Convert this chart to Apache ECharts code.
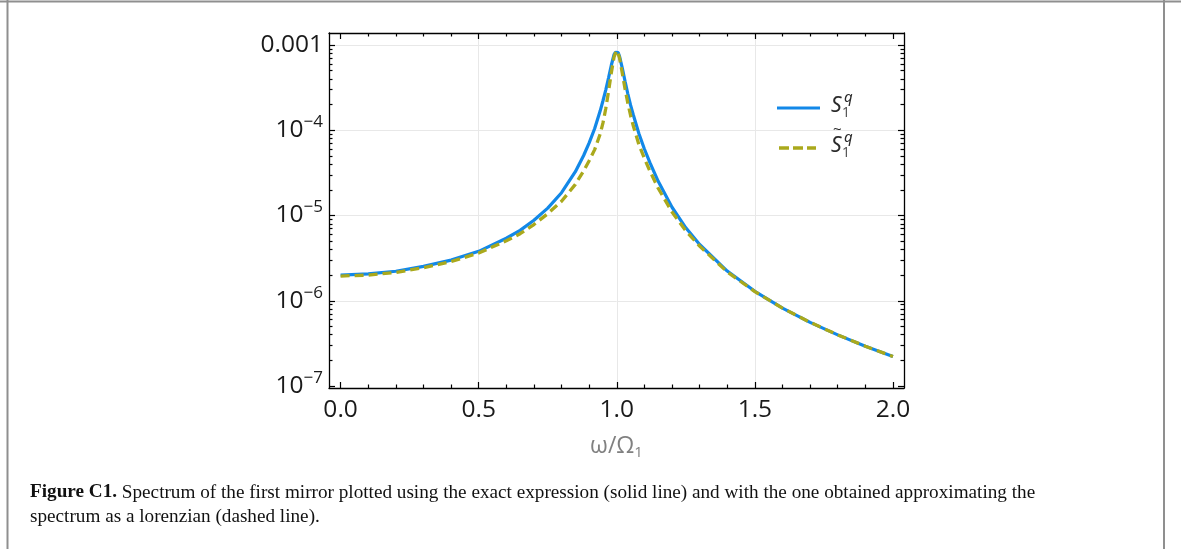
<!DOCTYPE html>
<html><head><meta charset="utf-8">
<script src="https://cdn.jsdelivr.net/npm/echarts@6/dist/echarts.min.js"></script>
<style>html,body{margin:0;padding:0;background:#fff}#c{width:1181px;height:549px}</style>
</head><body><div id="c"></div>
<script>
// ---- data ----
const omega = [0,0.1,0.2,0.3,0.4,0.5,0.6,0.65,0.7,0.75,0.8,0.85,0.88,0.9,0.92,0.94,0.95,0.96,0.97,0.98,0.99,0.995,1.0,1.005,1.01,1.02,1.03,1.04,1.05,1.06,1.08,1.1,1.12,1.15,1.2,1.25,1.3,1.4,1.5,1.6,1.7,1.8,1.9,2.0];
const sExact = [2.00e-6,2.07e-6,2.22e-6,2.53e-6,3.00e-6,3.80e-6,5.41e-6,6.70e-6,8.79e-6,1.22e-5,1.85e-5,3.27e-5,5.06e-5,7.10e-5,1.05e-4,1.69e-4,2.22e-4,2.96e-4,4.09e-4,5.75e-4,7.73e-4,8.22e-4,8.39e-4,8.13e-4,7.36e-4,5.35e-4,3.76e-4,2.68e-4,1.97e-4,1.51e-4,9.18e-5,6.03e-5,4.18e-5,2.52e-5,1.25e-5,7.18e-6,4.57e-6,2.23e-6,1.29e-6,8.20e-7,5.58e-7,3.98e-7,2.93e-7,2.22e-7];
const sLorentz = [1.95e-6,2.00e-6,2.15e-6,2.44e-6,2.88e-6,3.63e-6,5.05e-6,6.11e-6,7.83e-6,1.05e-5,1.47e-5,2.32e-5,3.34e-5,4.38e-5,5.93e-5,9.08e-5,1.22e-4,1.79e-4,2.83e-4,4.68e-4,7.21e-4,8.00e-4,8.63e-4,7.90e-4,7.03e-4,4.66e-4,3.05e-4,2.08e-4,1.49e-4,1.12e-4,6.81e-5,4.68e-5,3.32e-5,2.09e-5,1.10e-5,6.62e-6,4.37e-6,2.18e-6,1.28e-6,8.20e-7,5.58e-7,3.98e-7,2.93e-7,2.22e-7];

const xTickValues = [0,0.5,1,1.5,2];
const xTickLabels = ['0.0','0.5','1.0','1.5','2.0'];
const xMinorValues = [0.1,0.2,0.3,0.4,0.6,0.7,0.8,0.9,1.1,1.2,1.3,1.4,1.6,1.7,1.8,1.9];
const xGridValues = [0.5,1,1.5];
const yTickValues = [1e-7,1e-6,1e-5,1e-4,1e-3];
const yTickLabels = ['10{s|\u22127}','10{s|\u22126}','10{s|\u22125}','10{s|\u22124}','0.001'];
const yMinorValues = [2e-7,3e-7,4e-7,5e-7,6e-7,7e-7,8e-7,9e-7,2e-6,3e-6,4e-6,5e-6,6e-6,7e-6,8e-6,9e-6,2e-5,3e-5,4e-5,5e-5,6e-5,7e-5,8e-5,9e-5,2e-4,3e-4,4e-4,5e-4,6e-4,7e-4,8e-4,9e-4];
const yGridValues = [1e-6,1e-5,1e-4,1e-3];
const legendNames = ['S', 'S\u0303'];

// ---- chart ----
const X_MIN = -0.042, X_MAX = 2.04;
const Y_MIN = Math.pow(10,-7.0235), Y_MAX = Math.pow(10,-2.859);
const FONT = 'Open Sans';
const BLUE = '#1288e8', OLIVE = '#aaa91c';

function xAx(pos, opts){
  return Object.assign({type:'value', min:X_MIN, max:X_MAX, position:pos,
    axisLine:{show:false, onZero:false, lineStyle:{color:'#000', width:1.3}},
    axisTick:{show:false}, axisLabel:{show:false}, splitLine:{show:false}}, opts);
}
function yAx(pos, opts){
  return Object.assign({type:'log', logBase:10, min:Y_MIN, max:Y_MAX, position:pos,
    axisLine:{show:false, onZero:false, lineStyle:{color:'#000', width:1.3}},
    axisTick:{show:false}, axisLabel:{show:false}, splitLine:{show:false}}, opts);
}
const tickStyle = {color:'#000', width:1.2};

const option = {
  animation:false,
  grid:{left:329, right:277, top:33, bottom:161},
  xAxis:[
    xAx('bottom',{
      axisLine:{show:true,onZero:false,lineStyle:{color:'#000',width:1.3}},
      axisTick:{show:true,inside:true,length:6,customValues:xTickValues,lineStyle:tickStyle},
      axisLabel:{show:true,customValues:xTickValues,margin:10,fontSize:24.5,color:'#1a1a1a',fontFamily:FONT,
        formatter:v=>{const i=xTickValues.findIndex(t=>Math.abs(t-v)<1e-9);return i>=0?xTickLabels[i]:'';}},
      name:'{a|\u03c9/\u03a9}{b|1}', nameLocation:'middle', nameGap:45,
      nameTextStyle:{rich:{a:{fontSize:23,color:'#808080',fontFamily:FONT},b:{fontSize:15,color:'#808080',fontFamily:FONT,padding:[12,0,0,0]}}}
    }),
    xAx('bottom',{axisTick:{show:true,inside:true,length:3.5,customValues:xMinorValues,lineStyle:tickStyle}}),
    xAx('top',{axisLine:{show:true,onZero:false,lineStyle:{color:'#000',width:1.3}},
      axisTick:{show:true,inside:true,length:6,customValues:xTickValues,lineStyle:tickStyle}}),
    xAx('top',{axisTick:{show:true,inside:true,length:3.5,customValues:xMinorValues,lineStyle:tickStyle}}),
    xAx('bottom',{axisTick:{show:false,customValues:xGridValues},splitLine:{show:true,lineStyle:{color:'#e8e8e8',width:1}}})
  ],
  yAxis:[
    yAx('left',{
      axisLine:{show:true,onZero:false,lineStyle:{color:'#000',width:1.3}},
      axisTick:{show:true,inside:true,length:6,customValues:yTickValues,lineStyle:tickStyle},
      axisLabel:{show:true,customValues:yTickValues,margin:6,fontSize:24.5,color:'#1a1a1a',fontFamily:FONT,
        formatter:v=>{const i=yTickValues.findIndex(t=>Math.abs(Math.log10(t)-Math.log10(v))<1e-6);return i>=0?yTickLabels[i]:'';},
        rich:{s:{fontSize:17,color:'#1a1a1a',fontFamily:FONT,verticalAlign:'top',padding:[0,0,16,0]}}}
    }),
    yAx('left',{axisTick:{show:true,inside:true,length:3.5,customValues:yMinorValues,lineStyle:tickStyle}}),
    yAx('right',{axisLine:{show:true,onZero:false,lineStyle:{color:'#000',width:1.3}},
      axisTick:{show:true,inside:true,length:6,customValues:yTickValues,lineStyle:tickStyle}}),
    yAx('right',{axisTick:{show:true,inside:true,length:3.5,customValues:yMinorValues,lineStyle:tickStyle}}),
    yAx('left',{axisTick:{show:false,customValues:yGridValues},splitLine:{show:true,lineStyle:{color:'#e8e8e8',width:1}}})
  ],
  series:[
    {name:legendNames[0], type:'line', xAxisIndex:0, yAxisIndex:0, symbol:'none', z:3,
     data:omega.map((w,i)=>[w,sExact[i]]), lineStyle:{color:BLUE,width:3.2}},
    {name:legendNames[1], type:'line', xAxisIndex:0, yAxisIndex:0, symbol:'none', z:4,
     data:omega.map((w,i)=>[w,sLorentz[i]]), lineStyle:{color:OLIVE,width:3.3,type:[9,5]}}
  ],
  graphic:[
    // page frame
    {type:'line', shape:{x1:7.5,y1:0,x2:7.5,y2:549}, style:{stroke:'#8f8f8f',lineWidth:2}},
    {type:'line', shape:{x1:1164,y1:0,x2:1164,y2:549}, style:{stroke:'#8f8f8f',lineWidth:2}},
    {type:'line', shape:{x1:0,y1:1.5,x2:1181,y2:1.5}, style:{stroke:'#8f8f8f',lineWidth:2}},
    // legend
    {type:'line', shape:{x1:777,y1:108,x2:820,y2:108}, style:{stroke:BLUE,lineWidth:3.2}},
    {type:'line', shape:{x1:779,y1:148,x2:816,y2:148}, style:{stroke:OLIVE,lineWidth:3.3,lineDash:[10,4]}},
    {type:'text', x:831, y:96, style:{text:legendNames[0],font:'italic 21px "Noto Sans"',fill:'#2a2a2a'}},
    {type:'text', x:844, y:90, style:{text:'q',font:'italic 15px "Noto Sans"',fill:'#2a2a2a'}},
    {type:'text', x:842, y:106, style:{text:'1',font:'14px "Noto Sans"',fill:'#555'}},
    {type:'text', x:831, y:136, style:{text:'S',font:'italic 21px "Noto Sans"',fill:'#2a2a2a'}},
    {type:'text', x:833, y:122, style:{text:'~',font:'15px "Noto Sans"',fill:'#2a2a2a'}},
    {type:'text', x:844, y:130, style:{text:'q',font:'italic 15px "Noto Sans"',fill:'#2a2a2a'}},
    {type:'text', x:842, y:146, style:{text:'1',font:'14px "Noto Sans"',fill:'#555'}},
    // caption
    {type:'text', x:30, y:483, style:{text:'{b|Figure C1.} Spectrum of the first mirror plotted using the exact expression (solid line) and with the one obtained approximating the',
      font:'19.2px "Liberation Serif"',fill:'#111',rich:{b:{fontWeight:'bold',fontSize:19.2,fontFamily:'Liberation Serif',fill:'#111'}}}},
    {type:'text', x:30, y:507, style:{text:'spectrum as a lorenzian (dashed line).',font:'19.2px "Liberation Serif"',fill:'#111'}}
  ]
};
const chart = echarts.init(document.getElementById('c'), null, {renderer:'canvas'});
chart.setOption(option);
</script></body></html>
